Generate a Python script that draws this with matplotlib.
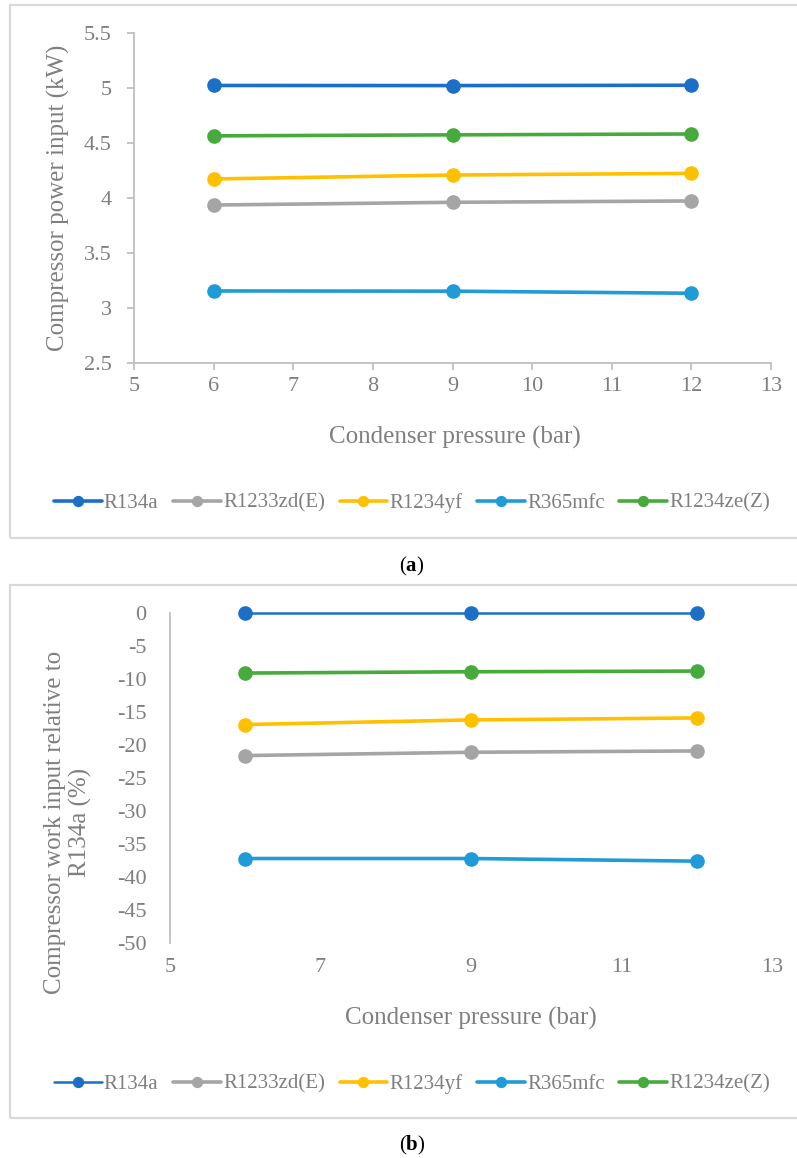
import numpy as np
import matplotlib
matplotlib.use("Agg")
import matplotlib.pyplot as plt
from matplotlib.patches import Rectangle

plt.rcParams['font.family'] = ['Liberation Serif', 'DejaVu Serif']
plt.rcParams['mathtext.fontset'] = 'custom'
plt.rcParams['mathtext.rm'] = 'Liberation Serif'
plt.rcParams['mathtext.bf'] = 'Liberation Serif:bold'
plt.rcParams['axes.unicode_minus'] = False

# data
pressure = [6, 9, 12]
names = ['R134a', 'R1233zd(E)', 'R1234yf', 'R365mfc', 'R1234ze(Z)']
colors = ['#1C6FC6', '#A5A5A5', '#FFC000', '#1F9BD7', '#46AB3C']

power_r134a = [5.023, 5.022, 5.025]      # kW
power_r1233zd = [3.936, 3.961, 3.973]
power_r1234yf = [4.173, 4.209, 4.224]
power_r365mfc = [3.155, 3.153, 3.134]
power_r1234ze = [4.565, 4.574, 4.582]

rel_r134a = [0, 0, 0]                    # % relative to R134a
rel_r1233zd = [-21.6, -21.1, -20.9]
rel_r1234yf = [-16.9, -16.2, -15.9]
rel_r365mfc = [-37.2, -37.2, -37.6]
rel_r1234ze = [-9.1, -8.9, -8.8]

W, H = 797, 1158
fig = plt.figure(figsize=(W / 100, H / 100), dpi=100)

gray_txt = '#7f7f7f'
axis_col = '#bfbfbf'
box_col = '#d9d9d9'

def fx(px):
    return px / W

def fy(py):
    return 1 - py / H

# chart boxes (right edge runs off the picture)
for top, bot in [(5, 538), (585, 1118)]:
    fig.patches.append(Rectangle((fx(10), fy(bot)), fx(805) - fx(10), (bot - top) / H,
                                 transform=fig.transFigure, fill=False,
                                 edgecolor=box_col, lw=1.6, zorder=0))

# ---------- panel (a) ----------
ax1 = fig.add_axes([fx(134), fy(363), (771 - 134) / W, 330 / H])
series_a = [power_r134a, power_r1233zd, power_r1234yf, power_r365mfc, power_r1234ze]
for s, n, c in zip(series_a, names, colors):
    ax1.plot(pressure, s, color=c, lw=2.6, marker='o', ms=9.5, label=n,
             solid_capstyle='round', clip_on=False)
ax1.set_xlim(5, 13)
ax1.set_ylim(2.5, 5.5)
ax1.set_xticks(range(5, 14))
ax1.set_yticks(np.arange(2.5, 5.51, 0.5))
ax1.set_yticklabels(['2.5', '3', '3.5', '4', '4.5', '5', '5.5'])
for sp in ['top', 'right']:
    ax1.spines[sp].set_visible(False)
for sp in ['left', 'bottom']:
    ax1.spines[sp].set_color(axis_col)
    ax1.spines[sp].set_linewidth(1.3)
ax1.tick_params(axis='both', colors=axis_col, labelcolor=gray_txt, labelsize=16,
                length=5, width=1.3, direction='out')
ax1.tick_params(axis='x', pad=5)
ax1.tick_params(axis='y', pad=11)

fig.text(fx(455), fy(437), 'Condenser pressure (bar)', ha='center', va='center',
         fontsize=18, color=gray_txt)
fig.text(fx(58), fy(198), 'Compressor power input (kW)', ha='center', va='center',
         rotation=90, fontsize=18, color=gray_txt)
ax1.legend(loc='center', bbox_to_anchor=(fx(412), fy(503)), bbox_transform=fig.transFigure,
           ncol=5, frameon=False, fontsize=15, handlelength=2.3, handletextpad=0.1,
           columnspacing=0.7, markerscale=0.75, labelcolor=gray_txt)
fig.text(fx(412), fy(566), r'($\mathbf{a}$)', ha='center', va='center', fontsize=15,
         color='black')

# ---------- panel (b) ----------
ax2 = fig.add_axes([fx(170), fy(943), (772 - 170) / W, 330 / H])
series_b = [rel_r134a, rel_r1233zd, rel_r1234yf, rel_r365mfc, rel_r1234ze]
for s, n, c in zip(series_b, names, colors):
    lw = 1.8 if n == 'R134a' else 2.6
    ax2.plot(pressure, s, color=c, lw=lw, marker='o', ms=9.5, label=n,
             solid_capstyle='round', clip_on=False, zorder=3)
ax2.set_xlim(5, 13)
ax2.set_ylim(-50, 0)
ax2.set_xticks([5, 7, 9, 11, 13])
ax2.set_yticks(range(-50, 1, 5))
for sp in ['top', 'right', 'bottom']:
    ax2.spines[sp].set_visible(False)
ax2.spines['left'].set_color(axis_col)
ax2.spines['left'].set_linewidth(1.3)
ax2.tick_params(axis='both', labelcolor=gray_txt, labelsize=16, length=0)
ax2.tick_params(axis='x', pad=11)
ax2.tick_params(axis='y', pad=17)

fig.text(fx(471), fy(1018), 'Condenser pressure (bar)', ha='center', va='center',
         fontsize=18, color=gray_txt)
fig.text(fx(68), fy(822), 'Compressor work input relative to\nR134a (%)', ha='center',
         va='center', rotation=90, fontsize=18, color=gray_txt, linespacing=1.2,
         multialignment='center')
ax2.legend(loc='center', bbox_to_anchor=(fx(412), fy(1084)), bbox_transform=fig.transFigure,
           ncol=5, frameon=False, fontsize=15, handlelength=2.3, handletextpad=0.1,
           columnspacing=0.7, markerscale=0.75, labelcolor=gray_txt)
fig.text(fx(412), fy(1145), r'($\mathbf{b}$)', ha='center', va='center', fontsize=15,
         color='black')

fig.savefig('out.png', dpi=100)
